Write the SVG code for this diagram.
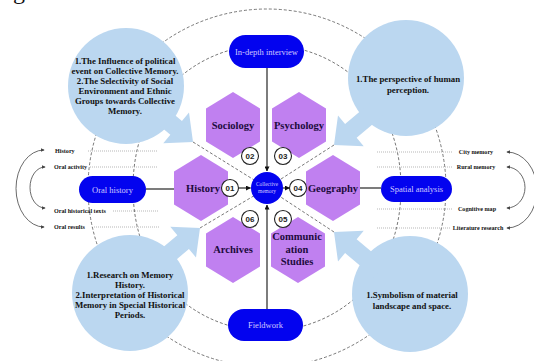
<svg xmlns="http://www.w3.org/2000/svg" width="534" height="361" viewBox="0 0 534 361">
<defs>
<style>
.bg{fill:#ffffff}
.dash{fill:none;stroke:#555;stroke-width:0.8;stroke-dasharray:3 2}
.dot{fill:none;stroke:#999;stroke-width:0.7;stroke-dasharray:1 1}
.solid{fill:none;stroke:#111;stroke-width:1.1}
.arc{fill:none;stroke:#444;stroke-width:0.8}
.big{fill:#bbd7f0}
.hex{fill:#c080f0}
.num{fill:#fff;stroke:#222;stroke-width:1.1}
.box{fill:#0303ef}
.ht{font-family:"Liberation Serif",serif;font-weight:bold;font-size:10.5px;fill:#1c0b3c;text-anchor:middle}
.nt{font-family:"Liberation Sans",sans-serif;font-weight:bold;font-size:8px;fill:#222;text-anchor:middle}
.bt{font-family:"Liberation Serif",serif;font-size:8.5px;fill:#d0c8ff;text-anchor:middle}
.ct{font-family:"Liberation Serif",serif;font-weight:bold;font-size:8.8px;fill:#111;text-anchor:middle}
.lt{font-family:"Liberation Serif",serif;font-weight:bold;font-size:6.1px;fill:#111}
</style>
<polygon id="hx" points="0,-33 27,-16.5 27,16.5 0,33 -27,16.5 -27,-16.5"/>
<polygon id="ba" points="0,0 -22,-20 -22,-9 -60,-9 -60,9 -22,9 -22,20"/>
<marker id="ah" viewBox="0 0 6 6" refX="5" refY="3" markerWidth="4" markerHeight="4" orient="auto-start-reverse" markerUnits="userSpaceOnUse"><path d="M0,0 L6,3 L0,6 z" fill="#444"/></marker>
<marker id="ak" viewBox="0 0 6 6" refX="5.5" refY="3" markerWidth="5" markerHeight="5" orient="auto" markerUnits="userSpaceOnUse"><path d="M0,0 L6,3 L0,6 z" fill="#111"/></marker>
</defs>
<rect class="bg" x="0" y="0" width="534" height="361"/>
<text x="13" y="-1" font-family="Liberation Serif, serif" font-size="24" fill="#111">g</text>

<g id="connectors">
<circle class="dash" cx="267" cy="188" r="179"/>
<path class="dash" d="M267,45 C200,45 133,95 133,188 C133,281 200,331 267,331 C334,331 401,281 401,188 C401,95 334,45 267,45 Z"/>
<line class="dot" x1="88" y1="151" x2="157" y2="151"/>
<line class="dot" x1="90" y1="167" x2="157" y2="167"/>
<line class="dot" x1="113" y1="211" x2="159" y2="211"/>
<line class="dot" x1="94" y1="227" x2="159" y2="227"/>
<line class="dot" x1="377" y1="152" x2="452" y2="152"/>
<line class="dot" x1="377" y1="167" x2="452" y2="167"/>
<line class="dot" x1="377" y1="209" x2="452" y2="209"/>
<line class="dot" x1="377" y1="228" x2="451" y2="228"/>
<path class="arc" d="M44,150 A28,38.5 0 0 0 44,227" marker-start="url(#ah)" marker-end="url(#ah)"/>
<path class="arc" d="M45,167 A15,20.5 0 0 0 45,208" marker-start="url(#ah)" marker-end="url(#ah)"/>
<path class="arc" d="M507,152 A30,38 0 0 1 507,228" marker-start="url(#ah)" marker-end="url(#ah)"/>
<path class="arc" d="M507,167 A18,20.5 0 0 1 507,208" marker-start="url(#ah)" marker-end="url(#ah)"/>
</g>

<g id="circle-tl">
<circle class="big" cx="126" cy="86" r="58"/>
<use href="#ba" class="big" transform="translate(193,142) rotate(40)"/>
<text class="ct" x="125" y="64">1.The Influence of political</text>
<text class="ct" x="125" y="74">event on Collective Memory.</text>
<text class="ct" x="125" y="84">2.The Selectivity of Social</text>
<text class="ct" x="125" y="94">Environment and Ethnic</text>
<text class="ct" x="125" y="104">Groups towards Collective</text>
<text class="ct" x="125" y="114">Memory.</text>
</g>
<g id="circle-tr">
<circle class="big" cx="406" cy="78" r="58"/>
<use href="#ba" class="big" transform="translate(334,145) rotate(140)"/>
<text class="ct" x="408" y="82">1.The perspective of human</text>
<text class="ct" x="408" y="93">perception.</text>
</g>
<g id="circle-bl">
<circle class="big" cx="130" cy="293" r="58"/>
<use href="#ba" class="big" transform="translate(200,228) rotate(-40)"/>
<text class="ct" x="130" y="278">1.Research on Memory</text>
<text class="ct" x="130" y="288">History.</text>
<text class="ct" x="130" y="298">2.Interpretation of Historical</text>
<text class="ct" x="130" y="308">Memory in Special Historical</text>
<text class="ct" x="130" y="318">Periods.</text>
</g>
<g id="circle-br">
<circle class="big" cx="410" cy="294" r="58"/>
<use href="#ba" class="big" transform="translate(334,232) rotate(-140)"/>
<text class="ct" x="412" y="298">1.Symbolism of material</text>
<text class="ct" x="412" y="309">landscape and space.</text>
</g>

<g id="links">
<line class="dash" x1="193" y1="142" x2="267" y2="188"/>
<line class="dash" x1="334" y1="145" x2="267" y2="188"/>
<line class="dash" x1="200" y1="228" x2="267" y2="188"/>
<line class="dash" x1="334" y1="232" x2="267" y2="188"/>
<line class="solid" x1="267" y1="68" x2="267" y2="171" marker-end="url(#ak)"/>
<line class="solid" x1="267" y1="309" x2="267" y2="205" marker-end="url(#ak)"/>
<line class="solid" x1="146" y1="189" x2="175" y2="189"/>
<line class="solid" x1="359" y1="188" x2="381" y2="188"/>
<line class="solid" x1="239" y1="188" x2="250.5" y2="188" marker-end="url(#ak)"/>
<line class="solid" x1="283" y1="188" x2="289.5" y2="188" marker-end="url(#ak)"/>
</g>

<g id="hex-sociology"><use href="#hx" class="hex" x="233" y="125"/><text class="ht" x="233" y="129">Sociology</text></g>
<g id="hex-psychology"><use href="#hx" class="hex" x="299" y="125"/><text class="ht" x="299" y="129">Psychology</text></g>
<g id="hex-history"><use href="#hx" class="hex" x="201" y="188"/><text class="ht" x="203" y="192">History</text></g>
<g id="hex-geography"><use href="#hx" class="hex" x="333" y="188"/><text class="ht" x="333" y="192">Geography</text></g>
<g id="hex-archives"><use href="#hx" class="hex" x="233" y="250"/><text class="ht" x="233" y="253">Archives</text></g>
<g id="hex-communication"><use href="#hx" class="hex" x="298" y="250"/><text class="ht" x="297" y="240">Communic</text><text class="ht" x="297" y="252.5">ation</text><text class="ht" x="297" y="265">Studies</text></g>

<g id="n01"><circle class="num" cx="230" cy="188" r="8.5"/><text class="nt" x="230" y="191">01</text></g>
<g id="n02"><circle class="num" cx="250" cy="156" r="8.5"/><text class="nt" x="250" y="159">02</text></g>
<g id="n03"><circle class="num" cx="283" cy="156" r="8.5"/><text class="nt" x="283" y="159">03</text></g>
<g id="n04"><circle class="num" cx="298" cy="188" r="8.5"/><text class="nt" x="298" y="191">04</text></g>
<g id="n05"><circle class="num" cx="283" cy="219" r="8.5"/><text class="nt" x="283" y="222">05</text></g>
<g id="n06"><circle class="num" cx="250" cy="219" r="8.5"/><text class="nt" x="250" y="222">06</text></g>

<g id="center"><circle class="box" cx="267" cy="188" r="16"/><text class="bt" x="267" y="186" style="font-size:5.4px">Collective</text><text class="bt" x="267" y="193" style="font-size:5.4px">memory</text></g>

<g id="box-interview"><rect class="box" x="229" y="35" width="75" height="33" rx="16.5"/><text class="bt" x="266.5" y="54.5">In-depth interview</text></g>
<g id="box-oral"><rect class="box" x="79" y="176" width="67" height="27" rx="13.5"/><text class="bt" x="112.5" y="192.5">Oral history</text></g>
<g id="box-spatial"><rect class="box" x="381" y="176" width="71" height="26" rx="13"/><text class="bt" x="416.5" y="192">Spatial analysis</text></g>
<g id="box-fieldwork"><rect class="box" x="228" y="309" width="75" height="32" rx="16"/><text class="bt" x="265.5" y="328">Fieldwork</text></g>

<g id="labels-left">
<text class="lt" x="55" y="153">History</text>
<text class="lt" x="54" y="169">Oral activity</text>
<text class="lt" x="54" y="212.5">Oral historical texts</text>
<text class="lt" x="54" y="229">Oral results</text>
</g>
<g id="labels-right">
<text class="lt" x="476" y="154" text-anchor="middle">City memory</text>
<text class="lt" x="476" y="169" text-anchor="middle">Rural memory</text>
<text class="lt" x="477" y="211" text-anchor="middle">Cognitive map</text>
<text class="lt" x="478" y="230" text-anchor="middle">Literature research</text>
</g>
</svg>
